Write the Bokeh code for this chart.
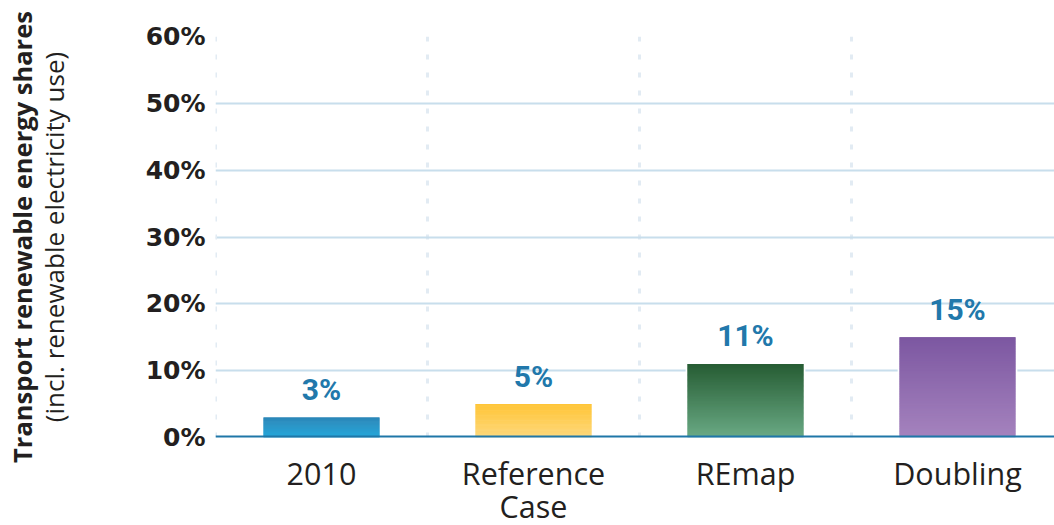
import numpy as np
from bokeh.plotting import figure
from bokeh.models import FixedTicker, Span, ColumnDataSource, Range1d, LinearAxis
from bokeh.core.properties import value
from bokeh.embed import file_html
from bokeh.resources import INLINE

categories = ["2010", "Reference\nCase", "REmap", "Doubling"]
shares = [3, 5, 11, 15]
share_labels = ["3%", "5%", "11%", "15%"]
top_colors = ["#2280b4", "#ffc536", "#265c33", "#7c57a1"]
bottom_colors = ["#14a1d8", "#fdd87c", "#6aaa85", "#a583be"]
y_ticks = [0, 10, 20, 30, 40, 50, 60]

p = figure(frame_width=839, frame_height=401, output_backend="svg", toolbar_location=None,
           x_range=Range1d(0, 839 / 212), y_range=Range1d(0, 60),
           min_border_left=215, min_border_right=0, min_border_top=36,
           min_border_bottom=0, outline_line_color=None)
p.background_fill_color = "white"
p.border_fill_color = "white"

centers = [i + 0.5 for i in range(len(categories))]
bw = 0.547

def hex2rgb(h):
    h = h.lstrip("#")
    return np.array([int(h[i:i + 2], 16) for i in (0, 2, 4)], dtype=float)

# white outline behind bars
p.quad(left=[c - bw / 2 - 0.009 for c in centers], right=[c + bw / 2 + 0.009 for c in centers],
       bottom=[0] * len(shares), top=[v + 0.22 for v in shares],
       fill_color="white", line_color=None)

N = 60
L, R, B, T, C = [], [], [], [], []
for c, v, tc, bc in zip(centers, shares, top_colors, bottom_colors):
    t_rgb, b_rgb = hex2rgb(tc), hex2rgb(bc)
    for k in range(N):
        f = (k + 0.5) / N
        rgb = b_rgb + (t_rgb - b_rgb) * f
        L.append(c - bw / 2)
        R.append(c + bw / 2)
        B.append(v * k / N)
        T.append(min(v * (k + 2) / N, v))
        C.append("#%02x%02x%02x" % tuple(int(round(x)) for x in rgb))
p.quad(left=L, right=R, bottom=B, top=T, fill_color=C, line_color=None)

src = ColumnDataSource(dict(x=centers, y=shares, t=share_labels))
p.text(x="x", y="y", text="t", source=src, text_align="center", text_baseline="middle",
       y_offset=-28, text_font=value("Roboto"), text_font_size="30px",
       text_font_style="bold", text_color="#2178ab")

p.add_layout(Span(location=0, dimension="width", line_color="#1f77a8", line_width=4, level="overlay"))
p.add_layout(Span(location=0, dimension="height", line_color="#e2ebf3", line_width=3,
                  line_dash="5 13", level="underlay"))

# grids
p.ygrid.ticker = FixedTicker(ticks=[t for t in y_ticks if t > 0])
p.ygrid.grid_line_color = "#c8deec"
p.ygrid.grid_line_width = 2
p.xgrid.ticker = FixedTicker(ticks=[1, 2, 3])
p.xgrid.grid_line_color = "#e2ebf3"
p.xgrid.grid_line_width = 3
p.xgrid.grid_line_dash = "5 13"

# y axis (tick labels + regular label line)
ya = p.yaxis[0]
ya.ticker = FixedTicker(ticks=y_ticks)
ya.major_label_overrides = {t: f"{t}%" for t in y_ticks}
ya.major_label_text_font = "DejaVu Sans"
ya.major_label_text_font_style = "bold"
ya.major_label_text_font_size = "25px"
ya.major_label_text_color = "#231f20"
ya.axis_line_color = None
ya.major_tick_line_color = None
ya.minor_tick_line_color = None
ya.major_tick_out = 0
ya.minor_tick_out = 0
ya.major_label_standoff = 10
ya.axis_label = "(incl. renewable electricity use)"
ya.axis_label_text_font = "Open Sans"
ya.axis_label_text_font_style = "normal"
ya.axis_label_text_font_size = "26px"
ya.axis_label_text_color = "#231f20"
ya.axis_label_standoff = 71

# outer axis carrying the bold label line
ya2 = LinearAxis(ticker=FixedTicker(ticks=[]), axis_line_color=None,
                 major_tick_line_color=None, minor_tick_line_color=None,
                 major_tick_out=0, minor_tick_out=0, major_label_standoff=0,
                 axis_label="Transport renewable energy shares",
                 axis_label_text_font="Open Sans", axis_label_text_font_style="bold",
                 axis_label_text_font_size="25.5px", axis_label_text_color="#231f20",
                 axis_label_standoff=-6)
p.add_layout(ya2, "left")

# x axis
xa = p.xaxis[0]
xa.ticker = FixedTicker(ticks=centers)
xa.major_label_overrides = {c: lab for c, lab in zip(centers, categories)}
xa.major_label_text_font = "Open Sans"
xa.major_label_text_font_size = "30.5px"
xa.major_label_text_color = "#231f20"
xa.major_label_text_line_height = 0.8
xa.axis_line_color = None
xa.major_tick_line_color = None
xa.minor_tick_line_color = None
xa.major_tick_out = 0
xa.minor_tick_out = 0
xa.major_label_standoff = 14

open("out.html", "w").write(file_html(p, INLINE))
